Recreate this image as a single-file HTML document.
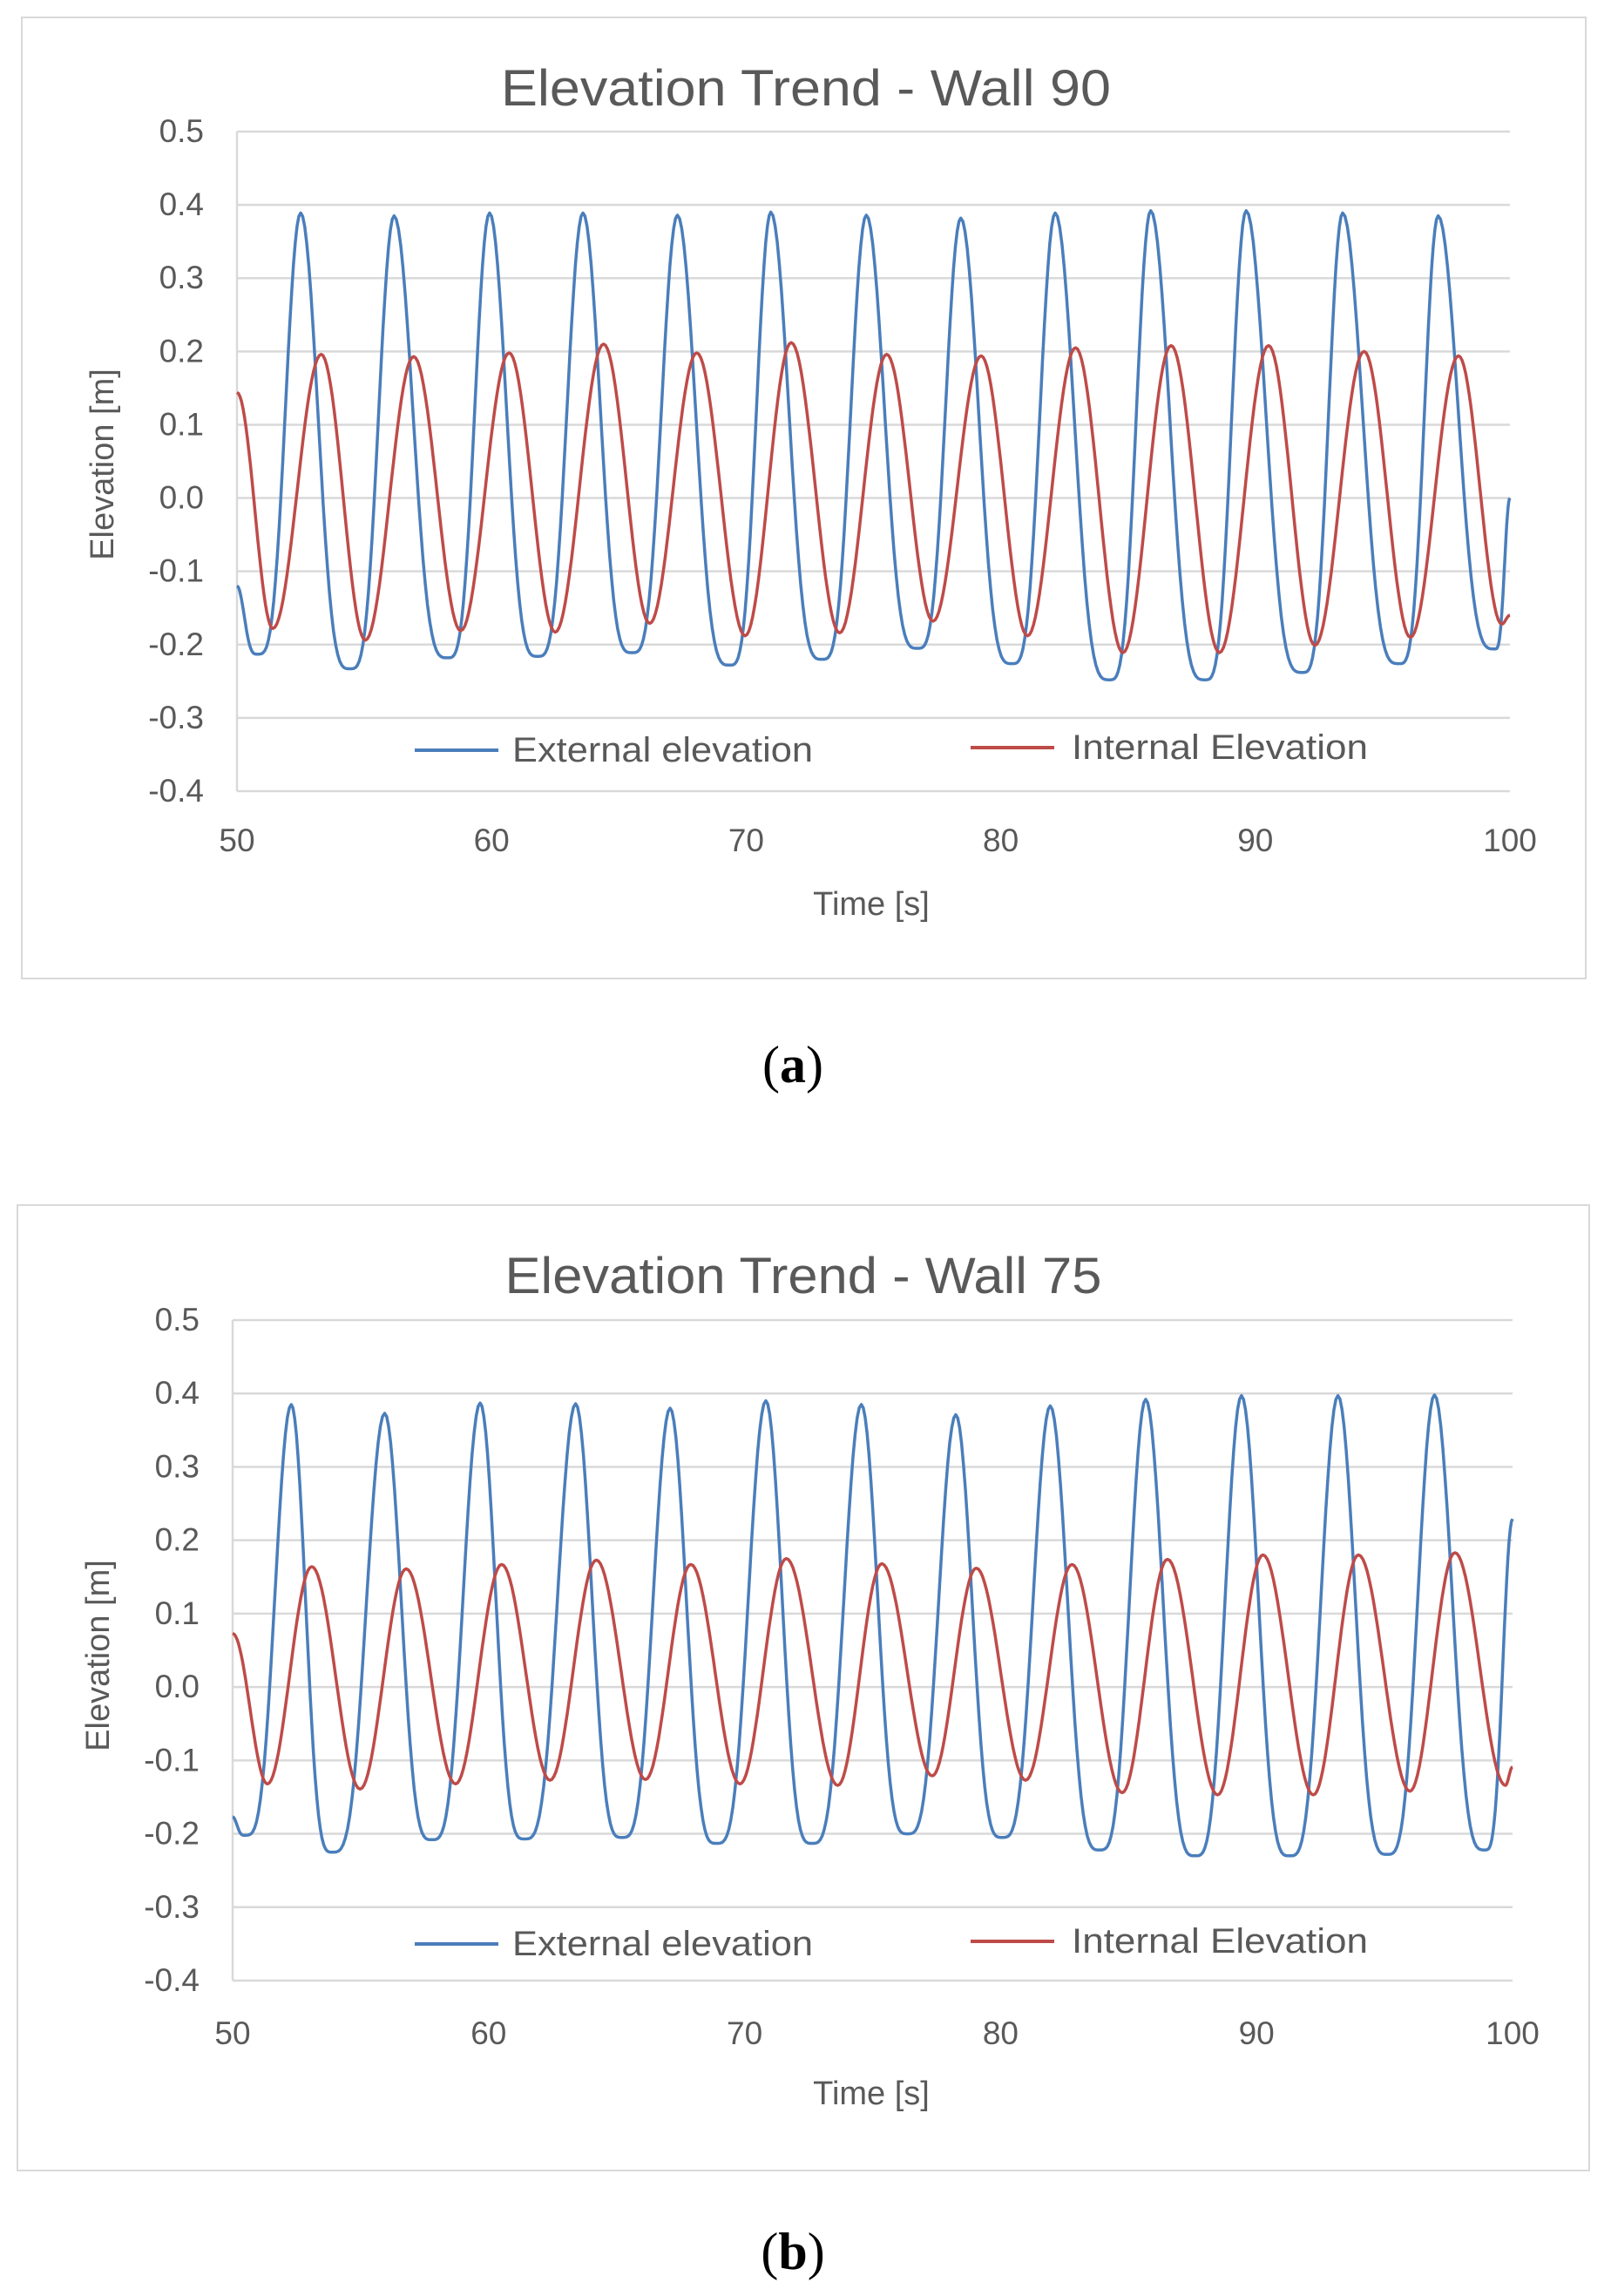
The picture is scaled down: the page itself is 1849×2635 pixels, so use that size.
<!DOCTYPE html>
<html><head><meta charset="utf-8"><style>
html,body{margin:0;padding:0;background:#fff;}
svg{display:block;font-family:"Liberation Sans",sans-serif;}
</style></head><body>
<svg id="svg" width="1849" height="2635" viewBox="0 0 1849 2635" xmlns="http://www.w3.org/2000/svg"></svg>
<script>
// ---- data: extrema (time s, elevation m) ----
const aExtT=[50,50.81,52.5,54.44,56.17,58.27,59.92,61.81,63.59,65.52,67.3,69.35,70.97,72.98,74.72,76.73,78.43,80.44,82.14,84.27,85.89,88.02,89.64,91.85,93.43,95.65,97.18,99.4,100];
const aExtV=[-0.12,-0.213,0.389,-0.233,0.385,-0.218,0.389,-0.216,0.389,-0.211,0.386,-0.228,0.39,-0.22,0.386,-0.205,0.382,-0.226,0.389,-0.248,0.392,-0.248,0.392,-0.238,0.389,-0.226,0.385,-0.206,0.0];
const aIntT=[50,51.41,53.31,55.04,56.94,58.79,60.69,62.5,64.4,66.21,68.06,69.96,71.77,73.67,75.52,77.34,79.23,81.05,82.94,84.8,86.69,88.59,90.52,92.34,94.27,96.09,97.98,99.68,100];
const aIntV=[0.144,-0.178,0.196,-0.194,0.193,-0.181,0.198,-0.183,0.21,-0.171,0.198,-0.188,0.212,-0.184,0.196,-0.168,0.194,-0.188,0.205,-0.211,0.208,-0.211,0.208,-0.201,0.2,-0.19,0.194,-0.172,-0.16];
const bExtT=[50,50.48,52.29,53.89,55.94,57.78,59.67,61.4,63.4,65.21,67.09,68.9,70.83,72.63,74.56,76.36,78.25,80.06,81.94,83.87,85.67,87.6,89.41,91.29,93.18,95.1,96.95,98.92,100];
const bExtV=[-0.177,-0.202,0.385,-0.225,0.373,-0.208,0.387,-0.207,0.386,-0.205,0.38,-0.213,0.39,-0.213,0.385,-0.2,0.371,-0.205,0.383,-0.222,0.392,-0.23,0.397,-0.23,0.397,-0.228,0.398,-0.222,0.229];
const bIntT=[50,51.36,53.09,54.98,56.78,58.71,60.51,62.4,64.21,66.13,67.9,69.82,71.63,73.64,75.36,77.33,79.05,80.98,82.79,84.75,86.52,88.48,90.25,92.22,93.98,95.99,97.75,99.72,100];
const bIntV=[0.073,-0.132,0.164,-0.139,0.161,-0.132,0.167,-0.127,0.173,-0.126,0.167,-0.132,0.175,-0.134,0.168,-0.121,0.162,-0.127,0.167,-0.144,0.174,-0.147,0.18,-0.147,0.18,-0.142,0.183,-0.134,-0.109];
const yTicks=[0.5,0.4,0.3,0.2,0.1,0.0,-0.1,-0.2,-0.3,-0.4];
const yTickLabels=["0.5","0.4","0.3","0.2","0.1","0.0","-0.1","-0.2","-0.3","-0.4"];
const xTicks=[50,60,70,80,90,100];
const xTickLabels=["50","60","70","80","90","100"];

const NS="http://www.w3.org/2000/svg";
const svg=document.getElementById('svg');
function mk(tag,attrs,parent,text){const e=document.createElementNS(NS,tag);for(const k in attrs)e.setAttribute(k,attrs[k]);if(text!==undefined)e.textContent=text;(parent||svg).appendChild(e);return e;}

function chart(cfg){
  const g=mk('g',{});
  
  
  const fr=mk('rect',{x:cfg.box[0],y:cfg.box[1],width:cfg.box[2]-cfg.box[0],height:cfg.box[3]-cfg.box[1],fill:'#fff',stroke:'#d9d9d9','stroke-width':2},g);
  
  
  const L=cfg.plot[0],R=cfg.plot[1],T=cfg.plot[2],B=cfg.plot[3];
  const xs=t=>L+(t-50)/50*(R-L);
  const ys=v=>T+(0.5-v)/0.9*(B-T);
  yTicks.forEach((v,i)=>{
    const ln=mk('line',{x1:L,x2:R,y1:ys(v),y2:ys(v),stroke:'#d9d9d9','stroke-width':2.5},g);
    
    
    const tx=mk('text',{x:L-38,y:ys(v)+12,'text-anchor':'end','font-size':37,fill:'#595959'},g,yTickLabels[i]);
    
    
  });
  const ax=mk('line',{x1:L,x2:L,y1:T,y2:B,stroke:'#d9d9d9','stroke-width':2.5},g);
  
  
  xTicks.forEach((t,i)=>{
    const tx=mk('text',{x:xs(t),y:cfg.xLabY,'text-anchor':'middle','font-size':37,fill:'#595959'},g,xTickLabels[i]);
    
    
  });
  function series(T_,V_,p,color,nm){
    let d='';
    for(let i=0;i<T_.length-1;i++){
      const t0=T_[i],t1=T_[i+1],v0=V_[i],v1=V_[i+1];
      const n=24;
      for(let k=(i===0?0:1);k<=n;k++){
        const u=k/n;let v;
        if(v1>v0){v=v0+(v1-v0)*Math.pow((1-Math.cos(Math.PI*u))/2,p);}
        else{v=v1+(v0-v1)*Math.pow((1-Math.cos(Math.PI*(1-u)))/2,p);}
        const t=t0+(t1-t0)*u;
        d+=(d?'L':'M')+xs(t).toFixed(1)+' '+ys(v).toFixed(1);
      }
    }
    const path=mk('path',{d:d,fill:'none',stroke:color,'stroke-width':3.5,'stroke-linejoin':'round'},g);
    
    
  }
  series(cfg.extT,cfg.extV,1.8,'#4a7ebb','external-elevation-line');
  series(cfg.intT,cfg.intV,1.0,'#be4b48','internal-elevation-line');
  const ti=mk('text',{x:cfg.titleX,y:cfg.titleY,'text-anchor':'middle','font-size':58,fill:'#595959',textLength:cfg.titleLen,lengthAdjust:'spacingAndGlyphs'},g,cfg.title);
  
  
  const xt=mk('text',{x:cfg.timeX,y:cfg.timeY,'text-anchor':'middle','font-size':38,fill:'#595959'},g,'Time [s]');
  
  
  const yt=mk('text',{x:0,y:0,'text-anchor':'middle','font-size':38,fill:'#595959',transform:`translate(${cfg.yTitleX},${cfg.yTitleY}) rotate(-90)`,'xml:space':'preserve'},g,cfg.yTitle);
  
  
  const lg=mk('g',{},g);
  
  
  const l1=mk('line',{x1:476,x2:572,y1:cfg.legY,y2:cfg.legY,stroke:'#4a7ebb','stroke-width':4},lg);
  
  
  const t1=mk('text',{x:588,y:cfg.legY+13,'font-size':40,fill:'#595959',textLength:345,lengthAdjust:'spacingAndGlyphs'},lg,'External elevation');
  
  
  const l2=mk('line',{x1:1114,x2:1210,y1:cfg.legY-3,y2:cfg.legY-3,stroke:'#be4b48','stroke-width':4},lg);
  
  
  const t2=mk('text',{x:1230,y:cfg.legY+10,'font-size':40,fill:'#595959',textLength:340,lengthAdjust:'spacingAndGlyphs'},lg,'Internal Elevation');
  
  
  const cap=mk('text',{x:cfg.capX,y:cfg.capY,'text-anchor':'middle','font-size':60,'font-family':'Liberation Serif, serif',fill:'#000'},svg);
  
  
  mk('tspan',{},cap,'(');
  mk('tspan',{'font-weight':'bold'},cap,cfg.cap);
  mk('tspan',{},cap,')');
}

chart({name:'chart-wall-90',box:[25,20,1820,1123],plot:[272,1733,151,908],xLabY:977,
  title:'Elevation Trend - Wall  90',titleX:925,titleY:121,titleLen:700,timeX:1000,timeY:1050,
  yTitle:'Elevation [m]',yTitleX:130,yTitleY:533,legY:861,
  extT:aExtT,extV:aExtV,intT:aIntT,intV:aIntV,cap:'a',capX:910,capY:1242});
chart({name:'chart-wall-75',box:[20,1383,1824,2491],plot:[267,1736,1515,2273],xLabY:2346,
  title:'Elevation Trend - Wall 75',titleX:922,titleY:1484,titleLen:685,timeX:1000,timeY:2415,
  yTitle:'Elevation  [m]',yTitleX:125,yTitleY:1900,legY:2231,
  extT:bExtT,extV:bExtV,intT:bIntT,intV:bIntV,cap:'b',capX:910,capY:2604});
</script>
</body></html>
